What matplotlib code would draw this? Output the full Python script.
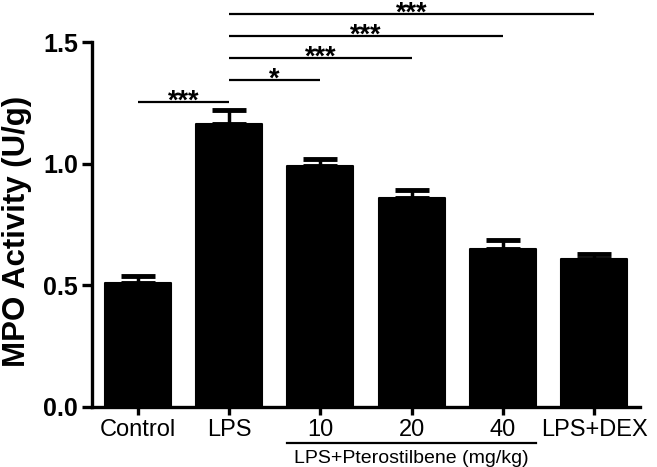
import matplotlib
matplotlib.use("Agg")
import matplotlib.pyplot as plt

plt.rcParams['font.family'] = ['Liberation Sans', 'DejaVu Sans']

categories = ["Control", "LPS", "10", "20", "40", "LPS+DEX"]
values = [0.51, 1.165, 0.99, 0.86, 0.65, 0.61]
errors = [0.03, 0.055, 0.03, 0.03, 0.035, 0.02]

# significance comparisons: (start index, end index, height, label)
sig_starts = [0, 1, 1, 1, 1]
sig_ends = [1, 2, 3, 4, 5]
sig_heights = [1.254, 1.344, 1.434, 1.525, 1.615]
sig_labels = ["***", "*", "***", "***", "***"]

group_label = "LPS+Pterostilbene (mg/kg)"
group_start, group_end = 2, 4

fig = plt.figure(figsize=(6.57, 4.67), dpi=100)
ax = fig.add_axes([92/657, 60/467, 548/657, 365/467])

x = list(range(len(categories)))
bw = 0.72
ax.bar(x, values, width=bw, color='black', edgecolor='black', linewidth=1.5,
       joinstyle='round', zorder=2)
ax.errorbar(x, values, yerr=[[0]*len(errors), errors], fmt='none', ecolor='black',
            elinewidth=2.5, capsize=12, capthick=3.5, zorder=1)

ax.set_xlim(-0.5, 5.5)
ax.set_ylim(0, 1.5)
ax.set_yticks([0.0, 0.5, 1.0, 1.5])
ax.set_yticklabels(["0.0", "0.5", "1.0", "1.5"], fontweight='bold', fontsize=18)
ax.set_xticks(x)
ax.set_xticklabels(categories, fontsize=17)

for s in ['top', 'right']:
    ax.spines[s].set_visible(False)
for s in ['left', 'bottom']:
    ax.spines[s].set_linewidth(2.4)
ax.tick_params(axis='y', length=7, width=2.4, pad=3)
ax.tick_params(axis='x', length=6, width=2.4, pad=3)

ax.set_ylabel("MPO Activity (U/g)", fontsize=22.5, fontweight='bold')
ax.yaxis.set_label_coords(-0.11, 0.482)

for s0, s1, h, lab in zip(sig_starts, sig_ends, sig_heights, sig_labels):
    ax.plot([s0, s1], [h, h], color='black', lw=1.6, clip_on=False, solid_capstyle='butt')
    ax.annotate(lab, xy=((s0 + s1) / 2, h), xytext=(0, -5), textcoords='offset points',
                ha='center', va='baseline', fontsize=19.5, fontweight='bold',
                annotation_clip=False)

# group line and label under x axis
trans = ax.get_xaxis_transform()
ax.plot([group_start - bw/2, group_end + bw/2], [-0.098, -0.098], color='black', lw=1.6,
        transform=trans, clip_on=False)
ax.text((group_start + group_end) / 2, -0.14, group_label, transform=trans,
        ha='center', va='center', fontsize=14)

fig.savefig("out.png", dpi=100)
